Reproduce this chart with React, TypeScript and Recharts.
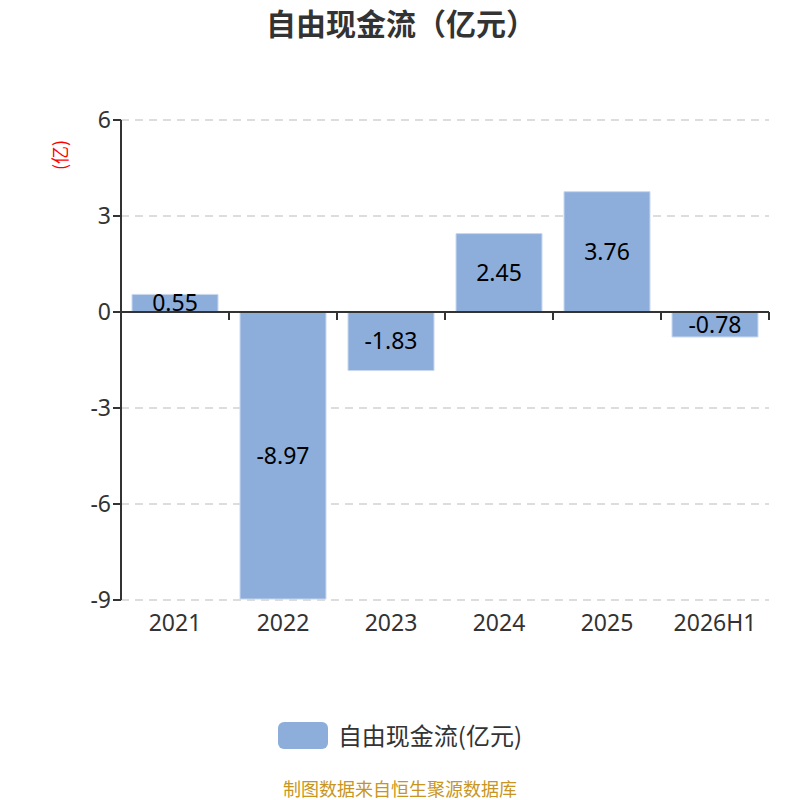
import { BarChart, Bar, XAxis, YAxis, CartesianGrid, LabelList, ReferenceLine } from 'recharts';

const years = ['2021', '2022', '2023', '2024', '2025', '2026H1'];
const freeCashFlow = [0.55, -8.97, -1.83, 2.45, 3.76, -0.78];
const yTicks = [-9, -6, -3, 0, 3, 6];

const data = years.map((year, i) => ({ year, value: freeCashFlow[i] }));

const WIDTH = 800;
const HEIGHT = 800;
const Y_AXIS_W = 60;
const MARGIN = { top: 120, right: 31, bottom: 160, left: 61 };
const Y_MIN = -9;
const Y_MAX = 6;
const BAR_COLOR = '#8DAEDB';
const FONT = '"Noto Sans", "Noto Sans CJK SC", sans-serif';
const CJK = '"Noto Sans CJK SC", sans-serif';

const plotW = WIDTH - MARGIN.left - Y_AXIS_W - MARGIN.right;
const plotH = HEIGHT - MARGIN.top - MARGIN.bottom - 40;
const band = plotW / years.length;
const zeroY = MARGIN.top + (plotH * Y_MAX) / (Y_MAX - Y_MIN);

// category label at the bottom, plus the boundary tick marks hanging from the zero line
function XTick(props: any) {
  const { x, y, payload, index } = props;
  const left = x - band / 2;
  const right = x + band / 2;
  return (
    <g>
      <line x1={left} y1={zeroY} x2={left} y2={zeroY + 8} stroke="#333" strokeWidth={2} />
      {index === years.length - 1 && (
        <line x1={right} y1={zeroY} x2={right} y2={zeroY + 8} stroke="#333" strokeWidth={2} />
      )}
      <text x={x} y={y + 23} textAnchor="middle" fill="#333" fontSize={23} fontFamily={FONT}>
        {payload.value}
      </text>
    </g>
  );
}

export default function App() {
  return (
    <div style={{ position: 'absolute', left: 0, top: 0, width: WIDTH, height: HEIGHT, background: '#fff', fontFamily: CJK }}>
      <div style={{ position: 'absolute', top: 1, left: 0, width: WIDTH + 2, textAlign: 'center', fontSize: 30, lineHeight: '42px', fontWeight: 'bold', color: '#333' }}>
        自由现金流（亿元）
      </div>
      <div
        style={{
          position: 'absolute',
          left: 39,
          top: 143,
          width: 40,
          height: 24,
          color: 'red',
          fontSize: 18,
          transform: 'rotate(-90deg)',
          whiteSpace: 'nowrap',
          lineHeight: '24px',
          textAlign: 'center',
        }}
      >
        (亿)
      </div>
      <BarChart width={WIDTH} height={HEIGHT} data={data} margin={MARGIN} barCategoryGap={11}>
        <CartesianGrid vertical={false} stroke="#bbb" strokeDasharray="8 6" />
        <XAxis
          dataKey="year"
          axisLine={false}
          tickLine={false}
          tick={<XTick />}
          interval={0}
          height={40}
        />
        <YAxis
          domain={[Y_MIN, Y_MAX]}
          ticks={yTicks}
          interval={0}
          width={Y_AXIS_W}
          axisLine={{ stroke: '#333', strokeWidth: 2 }}
          tickLine={{ stroke: '#333', strokeWidth: 2 }}
          tickSize={8}
          tick={{ fill: '#333', fontSize: 23, fontFamily: FONT }}
        />
        <Bar dataKey="value" fill={BAR_COLOR} stroke="#c9d8ee" strokeWidth={1} isAnimationActive={false}>
          <LabelList dataKey="value" position="center" fill="#000" fontSize={23} fontFamily={FONT} />
        </Bar>
        <ReferenceLine y={0} stroke="#333" strokeWidth={2} />
      </BarChart>
      <div style={{ position: 'absolute', top: 719, left: 0, width: WIDTH, display: 'flex', alignItems: 'center', justifyContent: 'center' }}>
        <span style={{ width: 50, height: 27, borderRadius: 6, background: BAR_COLOR, display: 'inline-block', marginRight: 10 }} />
        <span style={{ fontSize: 24, lineHeight: '32px', color: '#333' }}>自由现金流(亿元)</span>
      </div>
      <div style={{ position: 'absolute', top: 779, left: 0, width: WIDTH, textAlign: 'center', fontSize: 18, lineHeight: '18px', color: '#C8961E' }}>
        制图数据来自恒生聚源数据库
      </div>
    </div>
  );
}
